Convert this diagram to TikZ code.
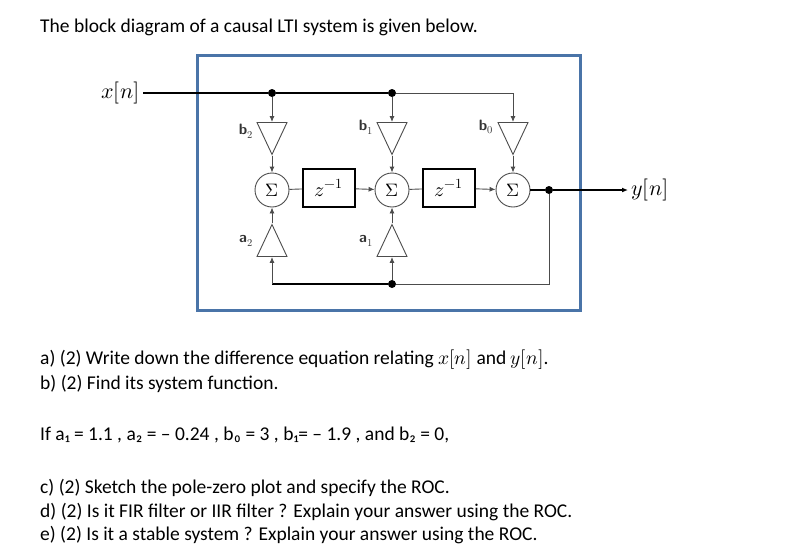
\documentclass[tikz,border=0pt]{standalone}
\usepackage{fontspec}
\setmainfont{Carlito}
\usepackage{unicode-math}
\setmathfont{Latin Modern Math}
\usetikzlibrary{arrows.meta,shapes.geometric}
\begin{document}
\begin{tikzpicture}[x=1pt,y=-1pt,
  txt/.style={anchor=west,inner sep=0pt,font=\fontsize{19.5}{22}\selectfont},
  thin/.style={draw=black!70,line width=0.9pt},
  thick/.style={draw=black,line width=2pt},
  arr/.style={-{Latex[length=6pt,width=5pt]}},
  tri/.style={thin,isosceles triangle,isosceles triangle apex angle=50,isosceles triangle stretches,minimum width=30pt,minimum height=32pt,inner sep=0pt},
  sum/.style={thin,circle,minimum size=34pt,inner sep=0pt,font=\fontsize{18}{20}\selectfont},
  del/.style={draw,line width=1.8pt,minimum width=52pt,minimum height=38pt,inner sep=0pt,font=\fontsize{20}{22}\selectfont},
  dot/.style={circle,fill,inner sep=0pt,minimum size=8pt},
  gl/.style={font=\fontsize{15}{17}\sffamily\bfseries\selectfont,text=black!80},
  ml/.style={font=\fontsize{22}{24}\selectfont}]
\useasboundingbox (0,0) rectangle (812,560);
\fill[white] (0,0) rectangle (812,560);
\node[txt] (title) at (40,27) {The block diagram of a causal LTI system is given below.};
\draw[draw={rgb,255:red,74;green,116;blue,168},line width=3pt] (197,55) rectangle (580,310);
\node[anchor=east,ml] (x) at (143,93) {$x[n]$};
\node[dot] (d1) at (272,93) {};
\node[dot] (d2) at (392,93) {};
\coordinate (c3) at (513,93);
\node[tri,shape border rotate=-90] (b2) at (272,132) {};
\node[tri,shape border rotate=-90] (b1) at (392,132) {};
\node[tri,shape border rotate=-90] (b0) at (513,132) {};
\node[sum] (s2) at (272,190) {$\Sigma$};
\node[sum] (s1) at (392,190) {$\Sigma$};
\node[sum] (s0) at (513,190) {$\Sigma$};
\node[del] (z1) at (329,188) {$z^{-1}$};
\node[del] (z2) at (449,188) {$z^{-1}$};
\node[tri,shape border rotate=90] (a2) at (272,247) {};
\node[tri,shape border rotate=90] (a1) at (392,247) {};
\node[dot] (dy) at (549,190) {};
\node[dot] (dd) at (392,284) {};
\coordinate (cb) at (272,284);
\coordinate (cr) at (549,284);
\node[anchor=west,ml] (y) at (628,190) {$y[n]$};
\node[gl] (lb2) at (246,131) {b$_2$};
\node[gl] (lb1) at (366,127) {b$_1$};
\node[gl] (lb0) at (486,127) {b$_0$};
\node[gl] (la2) at (246,241) {a$_2$};
\node[gl] (la1) at (366,241) {a$_1$};
\draw[thick] (x.east) -- (d1) -- (d2);
\draw[thin] (d2) -- (c3);
\draw[thin,arr] (c3) -- (b0.north);
\draw[thin,arr] (d1) -- (b2.north);
\draw[thin,arr] (d2) -- (b1.north);
\draw[thin,arr] (b2.apex) -- (s2);
\draw[thin,arr] (b1.apex) -- (s1);
\draw[thin,arr] (b0.apex) -- (s0);
\draw[thin] (s2) -- (z1);
\draw[thin,arr] (z1) -- (s1);
\draw[thin] (s1) -- (z2);
\draw[thin,arr] (z2) -- (s0);
\draw[thick] (s0) -- (dy);
\draw[thick,arr] (dy) -- (y.west);
\draw[thin] (dy) -- (cr) -- (dd);
\draw[thick] (dd) -- (cb);
\draw[thin,arr] (cb) -- (a2.south);
\draw[thin,arr] (dd) -- (a1.south);
\draw[thin,arr] (a2.apex) -- (s2);
\draw[thin,arr] (a1.apex) -- (s1);
\node[txt] (qa) at (40,360) {a) (2) Write down the difference equation relating $x[n]$ and $y[n]$.};
\node[txt] (qb) at (40,384) {b) (2) Find its system function.};
\node[txt] (qi) at (40,435) {If a₁ = 1.1 , a₂ = – 0.24 , b₀ = 3 , b₁= – 1.9 , and b₂ = 0,};
\node[txt] (qc) at (40,488) {c) (2) Sketch the pole-zero plot and specify the ROC.};
\node[txt] (qd) at (40,512) {d) (2) Is it FIR filter or IIR filter ? Explain your answer using the ROC.};
\node[txt] (qe) at (40,535) {e) (2) Is it a stable system ? Explain your answer using the ROC.};
\end{tikzpicture}
\end{document}
